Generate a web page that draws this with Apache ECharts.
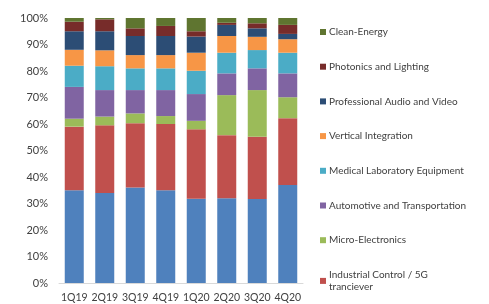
<!DOCTYPE html>
<html>
<head>
<meta charset="utf-8">
<script src="https://cdn.jsdelivr.net/npm/echarts@6/dist/echarts.min.js"></script>
<style>
  html, body { margin: 0; padding: 0; background: #fff; }
  #chart { width: 489px; height: 304px; }
</style>
</head>
<body>
<div id="chart"></div>
<script>
const quarters = ['1Q19', '2Q19', '3Q19', '4Q19', '1Q20', '2Q20', '3Q20', '4Q20'];

// shares in % (bottom to top)
const other = [35, 34, 36, 35, 31.8, 32, 31.7, 37];
const industrial = [24, 25.5, 24.3, 25, 26.2, 23.8, 23.5, 25.2];
const microElectronics = [3, 3.3, 3.7, 3, 3.2, 15.1, 17.6, 7.9];
const automotive = [12, 10, 8.8, 9.8, 10.1, 8.2, 8.2, 9];
const medical = [8, 9, 8.2, 8.2, 8.8, 7.8, 6.9, 7.8];
const vertical = [6, 6, 5, 5, 6.8, 6.3, 5, 5.1];
const audioVideo = [7, 7.2, 7.2, 7.2, 6.1, 4.2, 3.2, 2];
const photonics = [3.6, 4.5, 2.9, 3.8, 2, 0.8, 1.9, 3.4];
const cleanEnergy = [1.4, 0.5, 3.9, 3, 5, 1.8, 2, 2.6];

const yTicks = [0, 10, 20, 30, 40, 50, 60, 70, 80, 90, 100];

const seriesList = [
  { name: 'Other', data: other, color: '#4F81BD' },
  { name: 'Industrial Control / 5G tranciever', data: industrial, color: '#C0504D' },
  { name: 'Micro-Electronics', data: microElectronics, color: '#9BBB59' },
  { name: 'Automotive and Transportation', data: automotive, color: '#8064A2' },
  { name: 'Medical Laboratory Equipment', data: medical, color: '#4BACC6' },
  { name: 'Vertical Integration', data: vertical, color: '#F79646' },
  { name: 'Professional Audio and Video', data: audioVideo, color: '#2C4D75' },
  { name: 'Photonics and Lighting', data: photonics, color: '#772C2A' },
  { name: 'Clean-Energy', data: cleanEnergy, color: '#5F7530' }
];

const chart = echarts.init(document.getElementById('chart'));

chart.setOption({
  animation: false,
  textStyle: { fontFamily: 'Lato' },
  grid: { left: 59, right: 186, top: 18, bottom: 21, containLabel: false },
  legend: {
    orient: 'vertical',
    left: 320,
    top: 26,
    padding: 0,
    itemWidth: 6,
    itemHeight: 6,
    itemGap: 22.7,
    icon: 'rect',
    data: seriesList.slice(1).reverse().map(s => s.name),
    formatter: name => name === 'Industrial Control / 5G tranciever' ? 'Industrial Control / 5G\ntranciever' : name,
    textStyle: { fontSize: 10, color: '#404040', lineHeight: 12, fontFamily: 'Lato', padding: [0, 0, 0, -2] }
  },
  xAxis: {
    type: 'category',
    data: quarters,
    axisLine: { show: true, lineStyle: { color: '#d9d9d9' } },
    axisTick: { show: false },
    axisLabel: { color: '#404040', fontSize: 10.5, margin: 9, interval: 0 }
  },
  yAxis: {
    type: 'value',
    min: 0,
    max: 100,
    interval: 10,
    axisLine: { show: false },
    axisTick: { show: false },
    splitLine: { show: false },
    axisLabel: {
      color: '#404040',
      fontSize: 11,
      margin: 11,
      formatter: v => yTicks.includes(v) ? v + '%' : ''
    }
  },
  series: seriesList.map(s => ({
    name: s.name,
    type: 'bar',
    stack: 'total',
    barWidth: 19,
    data: s.data,
    itemStyle: { color: s.color }
  }))
});
</script>
</body>
</html>
